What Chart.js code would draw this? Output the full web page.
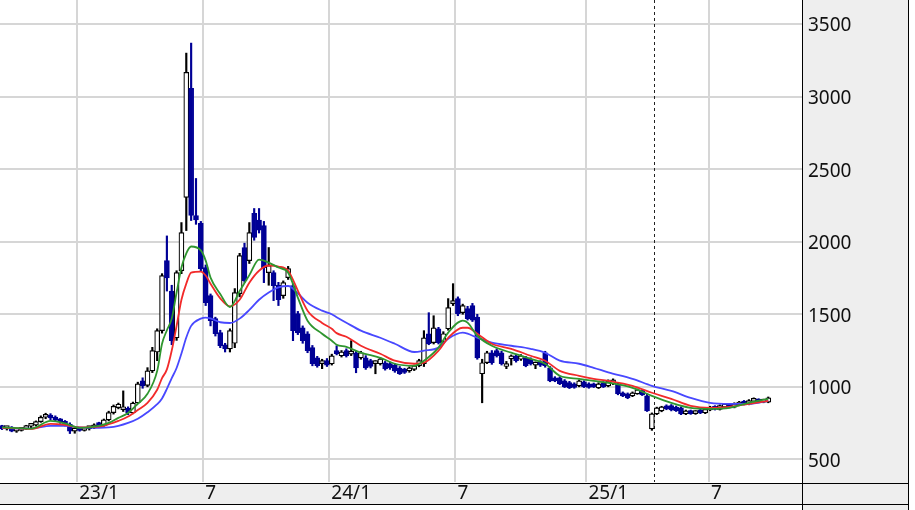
<!DOCTYPE html>
<html>
<head>
<meta charset="utf-8">
<script src="https://cdn.jsdelivr.net/npm/chart.js@4.4.1/dist/chart.umd.min.js"></script>
<style>
  html, body { margin: 0; padding: 0; background: #fff; }
</style>
</head>
<body>
<canvas id="chart" width="915" height="510"></canvas>
<script>
// weekly candles, index 0 = first week on the left
const opens = [725,712,722,695,700,712,728,736,760,790,805,785,770,758,742,695,705,700,712,716,
  738,732,772,822,856,842,852,820,890,1042,1010,1110,1240,1387,1870,1660,1338,1800,2305,3058,
  2180,2126,1822,1628,1470,1373,1290,1262,1300,1642,1960,1870,2195,2150,2112,1787,1787,1700,1628,1753,
  1697,1504,1407,1366,1270,1200,1160,1180,1159,1250,1214,1250,1225,1235,1200,1200,1180,1160,1159,1166,
  1160,1150,1130,1120,1110,1120,1145,1159,1366,1304,1400,1311,1400,1573,1608,1511,1540,1560,1480,1090,
  1166,1235,1250,1235,1140,1193,1214,1190,1200,1190,1150,1170,1235,1131,1062,1062,1041,1030,1020,1007,
  1035,1021,1020,993,1030,1007,1021,1021,959,952,938,952,975,938,710,813,834,869,870,860,
  855,813,834,815,840,820,840,865,845,860,880,860,875,900,880,900,912,895,895];
const highs = [735,728,726,712,718,735,742,765,800,818,815,800,782,768,752,715,718,718,722,745,
  756,778,832,875,888,972,862,895,1032,1062,1132,1272,1400,1780,2040,1700,1800,2132,3300,3369,
  2436,2140,1840,1640,1480,1390,1300,1400,1677,1920,1990,2132,2229,2229,2140,1960,1800,1720,1730,1830,
  1710,1520,1420,1380,1285,1210,1190,1195,1225,1283,1250,1262,1318,1245,1245,1215,1190,1180,1200,1175,
  1170,1160,1140,1128,1138,1150,1190,1387,1511,1490,1410,1380,1608,1711,1620,1570,1555,1575,1500,1190,
  1245,1250,1262,1245,1175,1220,1225,1222,1210,1200,1172,1180,1245,1140,1070,1070,1050,1038,1028,1048,
  1042,1028,1026,1028,1036,1048,1055,1028,965,958,965,985,982,952,820,860,866,876,878,868,
  862,840,840,836,846,850,866,870,876,886,886,890,900,906,912,924,918,915,930];
const lows = [705,702,690,686,695,705,718,730,755,780,772,760,748,730,678,680,694,695,702,712,
  728,728,765,812,848,830,808,814,884,990,1000,1098,1180,1370,1660,1290,1320,1780,2077,2146,
  2120,1800,1560,1420,1350,1270,1240,1240,1270,1620,1720,1850,2010,2060,1718,1700,1594,1560,1610,1740,
  1318,1360,1300,1235,1145,1135,1125,1140,1150,1220,1205,1205,1215,1097,1190,1120,1130,1090,1150,1115,
  1120,1100,1085,1092,1100,1112,1138,1140,1290,1295,1295,1300,1390,1560,1490,1500,1460,1450,1190,890,
  1160,1155,1205,1150,1125,1150,1170,1182,1138,1150,1125,1140,1135,1035,1035,1015,995,988,990,1000,
  995,990,995,988,995,1000,1015,945,932,918,932,948,940,830,700,808,828,842,834,830,
  808,808,810,810,815,815,835,840,840,855,855,855,870,875,876,895,890,890,890];
const closes = [712,722,695,700,712,728,736,760,790,805,785,770,758,742,695,705,700,712,716,738,
  732,772,822,866,880,852,820,888,1020,1008,1110,1250,1387,1767,1750,1318,1787,2063,3168,2181,
  2150,1815,1580,1456,1366,1283,1262,1387,1650,1905,1732,2063,2029,2080,1822,1836,1697,1600,1718,1815,
  1387,1373,1318,1249,1159,1145,1168,1150,1214,1228,1240,1214,1245,1131,1235,1131,1140,1168,1193,1124,
  1130,1110,1090,1100,1131,1145,1180,1338,1297,1407,1304,1366,1546,1594,1504,1560,1470,1460,1200,1166,
  1235,1166,1214,1159,1150,1214,1180,1214,1145,1160,1165,1150,1145,1041,1041,1021,1000,993,995,1041,
  1000,995,1000,1021,1000,1041,1048,952,938,924,959,979,945,834,813,855,862,848,840,835,
  813,834,815,830,820,845,860,845,870,880,860,883,895,880,905,917,895,910,924];

const maWeeks = [0,6,10,13,16,20,22,24,26,28,30,32,33,34,35,36,37,38,39,41,42,43,45,47,49,51,53,55,57,59,
  61,63,66,68,69,71,74,78,81,85,87,90,92,95,96,98,101,105,109,112,115,119,122,125,130,134,138,142,146,150,154,158];
const maShort = [720,712,765,748,717,731,751,786,820,883,952,1110,1297,1390,1470,1650,1822,1920,1967,1940,1870,1753,1640,1550,1660,1770,1877,1856,1822,1787,
  1615,1456,1366,1318,1290,1275,1235,1200,1159,1145,1180,1270,1373,1456,1442,1352,1283,1235,1193,1159,1076,1055,1041,1028,993,938,890,855,848,855,890,917];
const maMid = [718,710,745,738,720,725,742,765,795,840,890,980,1060,1120,1250,1420,1600,1711,1787,1794,1767,1711,1610,1555,1600,1718,1800,1836,1829,1800,
  1663,1525,1440,1400,1370,1345,1283,1228,1180,1159,1166,1249,1338,1407,1407,1366,1297,1262,1214,1180,1110,1076,1055,1041,1007,959,917,869,855,862,883,903];
const maLong = [715,712,731,731,720,717,720,731,751,780,825,880,920,986,1060,1130,1230,1340,1420,1470,1477,1472,1445,1440,1470,1530,1600,1650,1685,1695,
  1645,1580,1525,1500,1480,1442,1387,1338,1297,1240,1249,1270,1331,1373,1366,1338,1304,1283,1262,1235,1180,1159,1131,1100,1055,1007,972,924,890,883,883,903];

const yTicks = [500, 1000, 1500, 2000, 2500, 3000, 3500];
const monthWeeks = [15.5, 41.5, 67.5, 93.5, 120.5, 145.8];
const monthLabels = ['23/1', '7', '24/1', '7', '25/1', '7'];
const splitWeek = 134.4;

const UP = '#000000';
const DOWN = '#000096';
const isUp = i => closes[i] >= opens[i];

const bodies = opens.map((o, i) => ({ x: i, y: [o, closes[i]] }));
const wicks = opens.map((o, i) => ({ x: i, y: [lows[i], highs[i]] }));
const toLine = vals => maWeeks.map((w, i) => ({ x: w, y: vals[i] }));

const frame = {
  id: 'frame',
  beforeDraw(chart) {
    const ctx = chart.ctx;
    const a = chart.chartArea;
    ctx.save();
    ctx.fillStyle = '#ffffff';
    ctx.fillRect(0, 0, chart.width, chart.height);
    ctx.fillStyle = '#eeeeee';
    ctx.fillRect(a.right, 0, 106, chart.height);
    ctx.fillRect(0, a.bottom + 1, a.right + 106, 21);
    ctx.strokeStyle = '#000';
    ctx.lineWidth = 1;
    ctx.beginPath();
    ctx.moveTo(0, a.bottom + 1.5); ctx.lineTo(a.right + 106, a.bottom + 1.5);
    ctx.moveTo(0, a.bottom + 22.5); ctx.lineTo(a.right + 106, a.bottom + 22.5);
    ctx.moveTo(a.right + 0.5, 0); ctx.lineTo(a.right + 0.5, chart.height);
    ctx.moveTo(a.right + 106.5, 0); ctx.lineTo(a.right + 106.5, chart.height);
    ctx.stroke();
    ctx.restore();
  },
  beforeDatasetsDraw(chart) {
    const ctx = chart.ctx;
    const a = chart.chartArea;
    const x = Math.round(chart.scales.x.getPixelForValue(splitWeek)) + 0.5;
    ctx.save();
    ctx.strokeStyle = '#222';
    ctx.lineWidth = 1;
    ctx.setLineDash([3, 3]);
    ctx.beginPath();
    ctx.moveTo(x, a.top);
    ctx.lineTo(x, a.bottom);
    ctx.stroke();
    ctx.restore();
  }
};

const labelFont = { family: 'Noto Sans', size: 19 };

new Chart(document.getElementById('chart'), {
  type: 'bar',
  data: {
    datasets: [
      { type: 'line', data: toLine(maShort), borderColor: '#2f962f', borderWidth: 1.8, pointRadius: 0, cubicInterpolationMode: 'monotone' },
      { type: 'line', data: toLine(maMid), borderColor: '#f22a2a', borderWidth: 1.8, pointRadius: 0, cubicInterpolationMode: 'monotone' },
      { type: 'line', data: toLine(maLong), borderColor: '#4848ff', borderWidth: 1.8, pointRadius: 0, cubicInterpolationMode: 'monotone' },
      {
        data: bodies,
        grouped: false,
        barThickness: 5,
        minBarLength: 3,
        borderWidth: 1.2,
        borderSkipped: false,
        backgroundColor: c => isUp(c.dataIndex) ? '#ffffff' : DOWN,
        borderColor: c => isUp(c.dataIndex) ? UP : DOWN
      },
      {
        data: wicks,
        grouped: false,
        barThickness: 1.5,
        borderWidth: 0,
        backgroundColor: c => isUp(c.dataIndex) ? UP : DOWN
      }
    ]
  },
  options: {
    responsive: false,
    animation: false,
    layout: { padding: 0 },
    plugins: { legend: { display: false }, tooltip: { enabled: false } },
    scales: {
      x: {
        type: 'linear',
        min: -0.41,
        max: 164.95,
        offset: false,
        afterBuildTicks: s => { s.ticks = monthWeeks.map(v => ({ value: v })); },
        afterFit: s => { s.height = 28; s.paddingLeft = 0; s.paddingRight = 0; },
        grid: { color: '#d6d6d6', lineWidth: 2, drawTicks: false, offset: false },
        border: { display: false },
        ticks: {
          autoSkip: false, maxRotation: 0, align: 'start', padding: 0, labelOffset: 2,
          color: '#111', font: labelFont,
          callback: (v, i) => monthLabels[i]
        }
      },
      y: {
        position: 'right',
        min: 344,
        max: 3666,
        afterBuildTicks: s => { s.ticks = yTicks.map(v => ({ value: v })); },
        afterFit: s => { s.width = 113; s.paddingTop = 0; s.paddingBottom = 0; },
        grid: { color: '#d6d6d6', lineWidth: 2, drawTicks: false },
        border: { display: false },
        ticks: { padding: 6, labelOffset: 2, color: '#111', font: labelFont, callback: v => String(v) }
      }
    }
  },
  plugins: [frame]
});
</script>
</body>
</html>
